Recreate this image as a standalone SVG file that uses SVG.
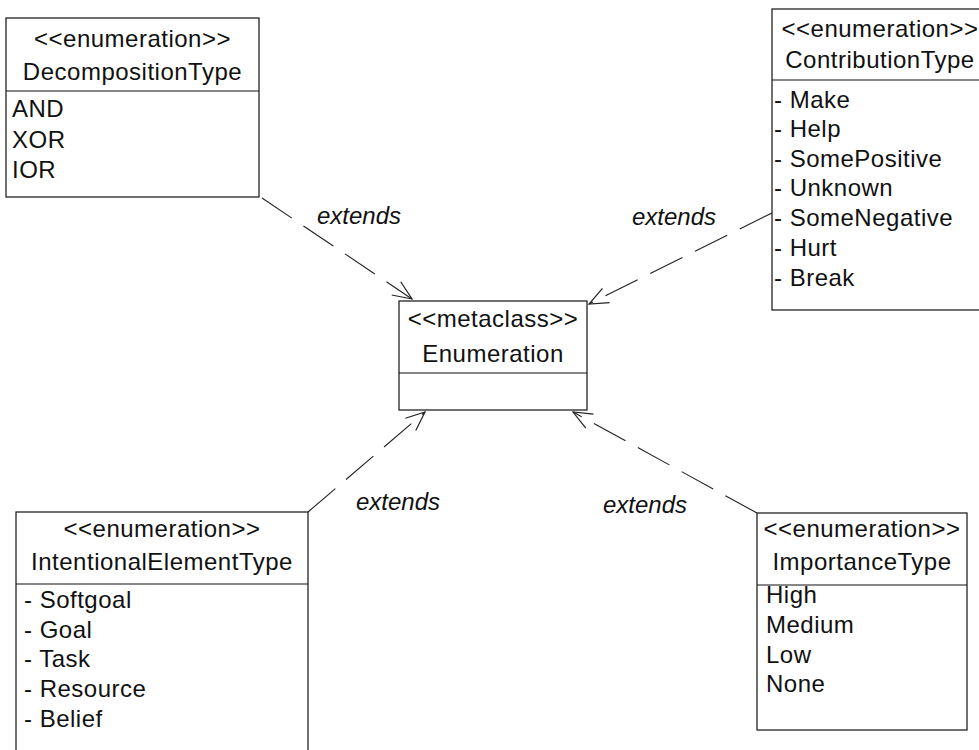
<svg xmlns="http://www.w3.org/2000/svg" width="979" height="750" viewBox="0 0 979 750">
<defs>
<style>
.box{fill:#fff;stroke:#111;stroke-width:1.2}
.div{stroke:#111;stroke-width:1.2}
text{font-family:"Liberation Sans",Arial,sans-serif;font-size:24px;fill:#111;letter-spacing:0.5px}
.c{text-anchor:middle}
.lbl{font-style:italic;letter-spacing:0}
.conn{fill:none;stroke:#222;stroke-width:1.1;stroke-dasharray:36 14}
</style>
<marker id="open" viewBox="-22 -11 24 22" refX="0" refY="0" markerWidth="24" markerHeight="22" markerUnits="userSpaceOnUse" orient="auto">
<path d="M-19,-8 L0,0 L-19,8" fill="none" stroke="#222" stroke-width="1.2" stroke-dasharray="none"/>
</marker>
</defs>
<rect width="979" height="750" fill="#fff"/>

<g id="connectors">
<path class="conn" d="M262,198 L412,299" marker-end="url(#open)"/>
<path class="conn" d="M772,213 L589,304" marker-end="url(#open)"/>
<path class="conn" d="M308,512 L425,412" marker-end="url(#open)"/>
<path class="conn" d="M757,513 L573,412" marker-end="url(#open)"/>
<text class="lbl" x="317" y="224">extends</text>
<text class="lbl" x="632" y="225">extends</text>
<text class="lbl" x="356" y="510">extends</text>
<text class="lbl" x="603" y="513">extends</text>
</g>

<g id="DecompositionType">
<rect class="box" x="6" y="18" width="253" height="179"/>
<line class="div" x1="6" y1="91" x2="259" y2="91"/>
<text class="c" x="132.5" y="47">&lt;&lt;enumeration&gt;&gt;</text>
<text class="c" x="132.5" y="80">DecompositionType</text>
<text x="12" y="117">AND</text>
<text x="12" y="148">XOR</text>
<text x="12" y="178">IOR</text>
</g>

<g id="ContributionType">
<rect class="box" x="772" y="9" width="216" height="301"/>
<line class="div" x1="772" y1="80" x2="988" y2="80"/>
<text class="c" x="880" y="37">&lt;&lt;enumeration&gt;&gt;</text>
<text class="c" x="880" y="68">ContributionType</text>
<text x="774" y="108">- Make</text>
<text x="774" y="137">- Help</text>
<text x="774" y="167">- SomePositive</text>
<text x="774" y="196">- Unknown</text>
<text x="774" y="226">- SomeNegative</text>
<text x="774" y="256">- Hurt</text>
<text x="774" y="286">- Break</text>
</g>

<g id="Enumeration">
<rect class="box" x="399" y="301" width="188" height="109"/>
<line class="div" x1="399" y1="373" x2="587" y2="373"/>
<text class="c" x="493" y="327">&lt;&lt;metaclass&gt;&gt;</text>
<text class="c" x="493" y="362">Enumeration</text>
</g>

<g id="IntentionalElementType">
<rect class="box" x="16" y="512" width="292" height="260"/>
<line class="div" x1="16" y1="584" x2="308" y2="584"/>
<text class="c" x="162" y="537">&lt;&lt;enumeration&gt;&gt;</text>
<text class="c" x="162" y="570">IntentionalElementType</text>
<text x="24" y="608">- Softgoal</text>
<text x="24" y="638">- Goal</text>
<text x="24" y="667">- Task</text>
<text x="24" y="697">- Resource</text>
<text x="24" y="727">- Belief</text>
</g>

<g id="ImportanceType">
<rect class="box" x="757" y="513" width="210" height="217"/>
<line class="div" x1="757" y1="585" x2="967" y2="585"/>
<text class="c" x="862" y="537">&lt;&lt;enumeration&gt;&gt;</text>
<text class="c" x="862" y="570">ImportanceType</text>
<text x="766" y="603">High</text>
<text x="766" y="633">Medium</text>
<text x="766" y="663">Low</text>
<text x="766" y="692">None</text>
</g>
</svg>
